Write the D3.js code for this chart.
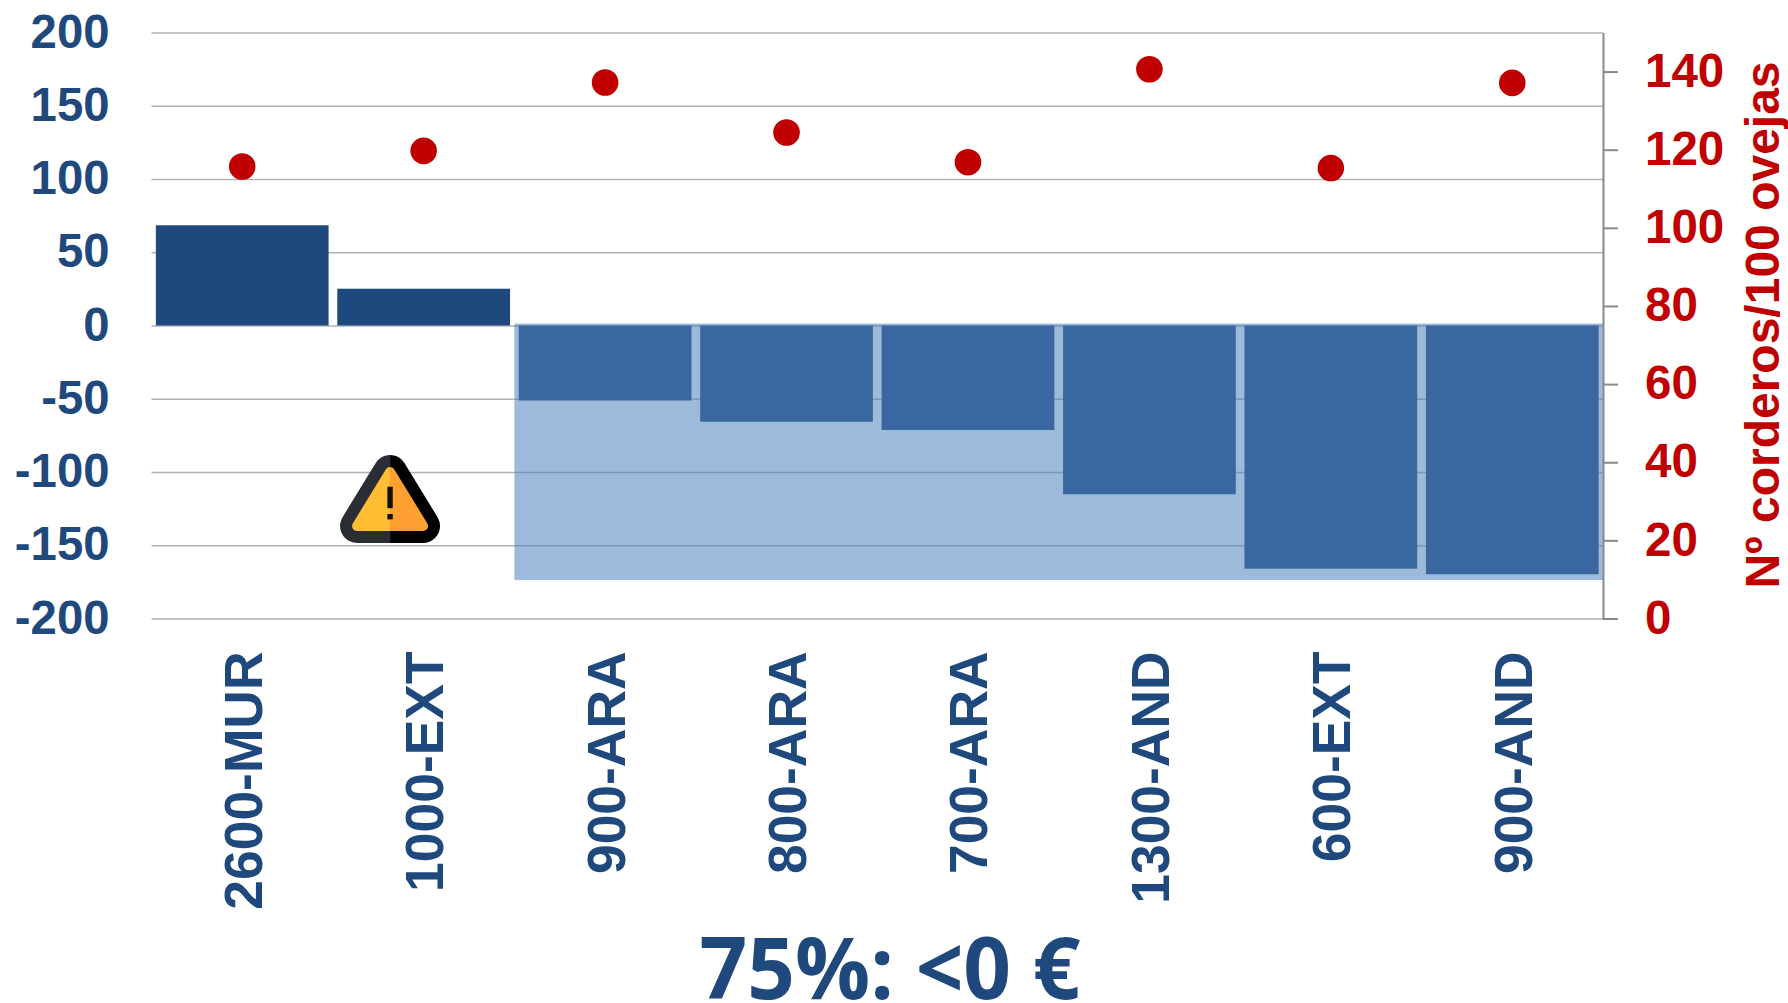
<!DOCTYPE html>
<html lang="es">
<head>
<meta charset="utf-8">
<script src="https://cdn.jsdelivr.net/npm/d3@7"></script>
<style>
html,body{margin:0;padding:0;background:#fff;overflow:hidden}
svg{display:block}
text{font-family:"Liberation Sans",Arial,sans-serif;font-weight:bold}
</style>
</head>
<body>
<svg id="chart" width="1788" height="1003"></svg>
<script>
const categories = ["2600-MUR","1000-EXT","900-ARA","800-ARA","700-ARA","1300-AND","600-EXT","900-AND"];
const margin = [68.4,25.1,-51.2,-65.7,-71.3,-115.2,-166,-169.8];
const lambs = [115.7,119.7,137.2,124.4,116.8,140.6,115.3,137.1];
const leftTicks = [200,150,100,50,0,-50,-100,-150,-200];
const rightTicks = [0,20,40,60,80,100,120,140];
const shadedCategories = ["900-ARA","900-AND"];
const shadedRange = [1.3,-173.8];
const warningAt = ["1000-EXT",-120];
const yTitle = "Nº corderos/100 ovejas";
const title = "75%: <0 €";

const NAVY="#1F497D", RED="#C00000";
const W=1788, H=1003;
const plotL=151.5, plotR=1603, plotT=32.5, plotB=618.5;

const svg=d3.select("#chart");
const x=d3.scaleBand().domain(categories).range([plotL,plotR]).paddingInner(0.048).paddingOuter(0.024);
const yL=d3.scaleLinear().domain([-200,200]).range([plotB,plotT]);
const yR=d3.scaleLinear().domain([0,150]).range([plotB,plotT]);

// Grid + left labels
const gridG=svg.append("g").attr("transform",`translate(${plotL},0)`)
  .call(d3.axisLeft(yL).tickValues(leftTicks).tickSize(-(plotR-plotL)).tickPadding(42).tickFormat(d=>String(d)));
gridG.select(".domain").remove();
gridG.selectAll("line").attr("stroke","#b2b2b2").attr("stroke-width",1.5);
gridG.selectAll("text").attr("fill",NAVY).style("font-size","47.3px").attr("dy","0.31em");

// Bars
svg.append("g").selectAll("rect").data(categories).join("rect")
  .attr("x",d=>x(d)).attr("width",x.bandwidth())
  .attr("y",(d,i)=>yL(Math.max(margin[i],0)))
  .attr("height",(d,i)=>Math.abs(yL(margin[i])-yL(0)))
  .attr("fill",NAVY);

// Shaded overlay over the negative group
const bandGap=x.step()-x.bandwidth();
const shadeX0=x(shadedCategories[0])-bandGap/2;
svg.append("rect")
  .attr("x",shadeX0).attr("width",plotR-shadeX0)
  .attr("y",yL(shadedRange[0])).attr("height",yL(shadedRange[1])-yL(shadedRange[0]))
  .attr("fill","#4F81BD").attr("fill-opacity",0.55);

// Right axis
const rG=svg.append("g").attr("transform",`translate(${plotR},0)`)
  .call(d3.axisRight(yR).tickValues(rightTicks).tickSize(15).tickPadding(27).tickSizeOuter(0));
rG.select(".domain").attr("stroke","#898989").attr("stroke-width",2);
rG.selectAll("line").attr("stroke","#898989").attr("stroke-width",2);
rG.selectAll("text").attr("fill",RED).style("font-size","47.5px").attr("dy","0.31em");

// Dots
svg.append("g").selectAll("circle").data(categories).join("circle")
  .attr("cx",d=>x(d)+x.bandwidth()/2)
  .attr("cy",(d,i)=>yR(lambs[i]))
  .attr("r",13.3).attr("fill",RED);

// Category labels
const xG=svg.append("g").attr("transform",`translate(0,${plotB})`)
  .call(d3.axisBottom(x).tickSize(0).tickPadding(0));
xG.select(".domain").remove();
xG.selectAll("text")
  .attr("fill",NAVY).style("font-size","53.4px")
  .attr("text-anchor","end").attr("dy",null)
  .attr("transform","translate(19.5,33) rotate(-90)")
  .attr("x",0).attr("y",0);

// Right-hand title
svg.append("text")
  .attr("transform","translate(1779,325) rotate(-90)")
  .attr("text-anchor","middle").attr("fill",RED)
  .style("font-size","48px").text(yTitle);

// Bottom title
svg.append("text")
  .attr("x",890).attr("y",999).attr("text-anchor","middle").attr("fill",NAVY)
  .attr("textLength",381).attr("lengthAdjust","spacingAndGlyphs")
  .style("font-family",'"Open Sans","Noto Sans",sans-serif').style("font-weight","700")
  .style("font-size","86px").text(title);

// Warning icon
const cx=x(warningAt[0])+x.bandwidth()/2-33.6, cy=yL(warningAt[1]);
const tri=`M0,${472-cy} L-33,${526-cy} L33,${526-cy} Z`;
const icon=svg.append("g").attr("transform",`translate(${cx},${cy})`);
const defs=svg.append("defs");
defs.append("clipPath").attr("id","lh").append("rect").attr("x",-60).attr("y",-100).attr("width",60).attr("height",200);
defs.append("clipPath").attr("id","rh").append("rect").attr("x",0).attr("y",-100).attr("width",60).attr("height",200);
[["lh","#2A2D34","#FFBE33"],["rh","#000000","#FFA130"]].forEach(([c,dark,fill])=>{
  const g=icon.append("g").attr("clip-path",`url(#${c})`);
  g.append("path").attr("d",tri).attr("fill",dark).attr("stroke",dark).attr("stroke-width",34).attr("stroke-linejoin","round");
  g.append("path").attr("d",tri).attr("fill",fill).attr("stroke",fill).attr("stroke-width",10).attr("stroke-linejoin","round");
});
icon.append("rect").attr("x",-2.7).attr("y",486.7-cy).attr("width",5.4).attr("height",21.5).attr("fill","#111");
icon.append("rect").attr("x",-2.7).attr("y",514-cy).attr("width",5.4).attr("height",5.4).attr("fill","#111");
</script>
</body>
</html>
